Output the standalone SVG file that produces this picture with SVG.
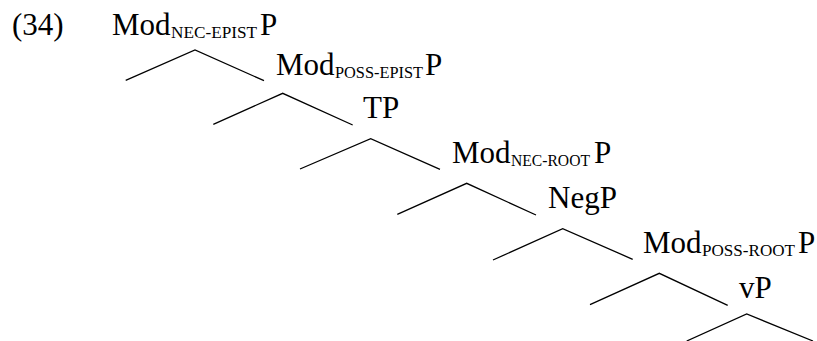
<svg xmlns="http://www.w3.org/2000/svg" width="817" height="341" viewBox="0 0 817 341">
  <style>
    .lbl { font-family: "Liberation Serif", "Times New Roman", serif; font-size: 31px; fill: #000; }
    .sub { font-family: "Liberation Serif", "Times New Roman", serif; font-size: 17px; fill: #000; }
    .edge { fill: none; stroke: #000; stroke-width: 1.3; }
  </style>
  <rect width="817" height="341" fill="#fff"/>
  <text class="lbl" x="12" y="35">(34)</text>

  <!-- branch pairs: left daughter, mother, right daughter -->
  <g id="connectors">
    <polyline class="edge" points="125.7,80.3 195,50 264,80.7"/>
    <polyline class="edge" points="213.3,124.3 282.7,93.3 352.7,125"/>
    <polyline class="edge" points="300,169 370.7,138.7 440,169.3"/>
    <polyline class="edge" points="397.3,214.3 466.7,183.3 536,215"/>
    <polyline class="edge" points="493,260 562.7,228.7 632.7,259.3"/>
    <polyline class="edge" points="590,304.7 659.3,273.3 727.7,305.3"/>
    <polyline class="edge" points="686.7,341 746.7,314 813,341"/>
  </g>

  <g id="n-mod-nec-epist">
    <text class="lbl" x="112" y="35">Mod</text>
    <text class="sub" x="171" y="38" textLength="86" lengthAdjust="spacingAndGlyphs">NEC-EPIST</text>
    <text class="lbl" x="260" y="35">P</text>
  </g>
  <g id="n-mod-poss-epist">
    <text class="lbl" x="276" y="75">Mod</text>
    <text class="sub" x="335" y="78" textLength="88" lengthAdjust="spacingAndGlyphs">POSS-EPIST</text>
    <text class="lbl" x="425" y="75">P</text>
  </g>
  <g id="n-tp">
    <text class="lbl" x="363" y="118">TP</text>
  </g>
  <g id="n-mod-nec-root">
    <text class="lbl" x="452" y="163">Mod</text>
    <text class="sub" x="511" y="166" textLength="79" lengthAdjust="spacingAndGlyphs">NEC-ROOT</text>
    <text class="lbl" x="594" y="163">P</text>
  </g>
  <g id="n-negp">
    <text class="lbl" x="548" y="208">NegP</text>
  </g>
  <g id="n-mod-poss-root">
    <text class="lbl" x="643" y="253">Mod</text>
    <text class="sub" x="702" y="256" textLength="93" lengthAdjust="spacingAndGlyphs">POSS-ROOT</text>
    <text class="lbl" x="798" y="253">P</text>
  </g>
  <g id="n-vp">
    <text class="lbl" x="739" y="298">vP</text>
  </g>
</svg>
